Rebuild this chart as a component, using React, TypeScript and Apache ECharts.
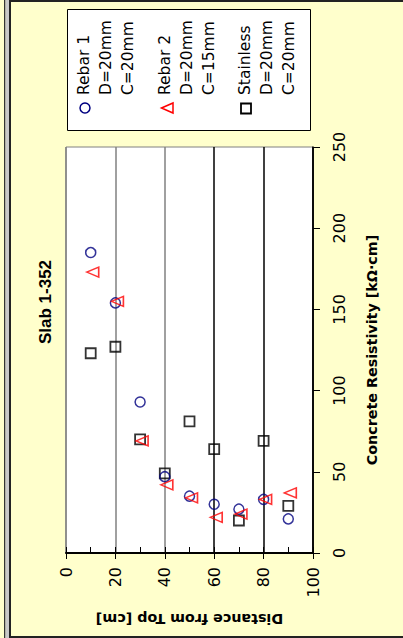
import React, { useEffect, useRef } from "react";
import * as echarts from "echarts";

// Depth below the slab surface (cm) for each reading
const distances = [10, 20, 30, 40, 50, 60, 70, 80, 90];
// Concrete resistivity readings (kΩ·cm)
const rebar1 = [185, 154, 93, 47, 35, 30, 27, 33, 21];
const rebar2 = [173, 155, 69, 42, 34, 22, 24, 33, 37];
const stainless = [123, 127, 70, 49, 81, 64, 20, 69, 29];

// Axis tick values
const distanceTicks = [0, 20, 40, 60, 80, 100];
const resistivityTicks = [0, 50, 100, 150, 200, 250];

// Legend entries: name followed by bar diameter and cover
const legendRebar1 = ["Rebar 1", "D=20mm", "C=20mm"];
const legendRebar2 = ["Rebar 2", "D=20mm", "C=15mm"];
const legendStainless = ["Stainless", "D=20mm", "C=20mm"];

const FONT = '"DejaVu Sans", Verdana, sans-serif';
const TITLE_FONT = '"Liberation Sans", Arial, sans-serif';
const NAVY = "#000080";
const RED = "#FF0000";
const PANEL = "#FFFFCC";

const pairs = (ys: number[]) => distances.map((d, i) => [d, ys[i]]);

function legendColumn(lines: string[], x0: number) {
  return lines.map((t, i) => ({
    type: "text",
    x: x0 + i * 22,
    y: 95,
    rotation: Math.PI / 2,
    style: {
      text: t,
      fontFamily: FONT,
      fontSize: 15.5,
      fill: "#000",
      align: "left",
      verticalAlign: "middle",
    },
  }));
}

export default function App() {
  const ref = useRef<HTMLDivElement>(null);

  useEffect(() => {
    if (!ref.current) return;
    const chart = echarts.init(ref.current, undefined, { renderer: "svg" });
    const dStep = distanceTicks[1] - distanceTicks[0];
    const rStep = resistivityTicks[1] - resistivityTicks[0];

    chart.setOption({
      animation: false,
      backgroundColor: PANEL,
      grid: {
        left: 66,
        right: 90,
        top: 147,
        bottom: 85,
        show: true,
        backgroundColor: "#FFFFFF",
        borderColor: "#808080",
        borderWidth: 1,
      },
      xAxis: [
        {
          type: "value",
          position: "bottom",
          min: distanceTicks[0],
          max: distanceTicks[distanceTicks.length - 1],
          interval: dStep,
          name: "Distance from Top [cm]",
          nameLocation: "middle",
          nameRotate: 180,
          nameGap: 59,
          nameTextStyle: {
            fontFamily: FONT,
            fontSize: 14.3,
            fontWeight: "bold",
            color: "#000",
          },
          axisLine: { show: true, lineStyle: { color: "#000", width: 2 } },
          axisTick: { show: true, inside: false, length: 6, lineStyle: { color: "#000", width: 1 } },
          axisLabel: {
            rotate: 90,
            margin: 14,
            fontFamily: FONT,
            fontSize: 16,
            color: "#000",
          },
          splitLine: {
            show: true,
            lineStyle: {
              color: ["#808080", "#808080", "#808080", "#000000", "#000000", "#000000"],
              width: 1.5,
            },
          },
        },
        {
          // minor ticks pointing into the plot
          type: "value",
          position: "bottom",
          min: distanceTicks[0],
          max: distanceTicks[distanceTicks.length - 1],
          interval: dStep / 2,
          axisLine: { show: false },
          axisTick: { show: true, inside: true, length: 6, lineStyle: { color: "#000", width: 1 } },
          axisLabel: { show: false },
          splitLine: { show: false },
        },
      ],
      yAxis: {
        type: "value",
        position: "right",
        min: resistivityTicks[0],
        max: resistivityTicks[resistivityTicks.length - 1],
        interval: rStep,
        name: "Concrete Resistivity [kΩ·cm]",
        nameLocation: "middle",
        nameRotate: 90,
        nameGap: 52,
        nameTextStyle: {
          fontFamily: FONT,
          fontSize: 14.3,
          fontWeight: "bold",
          color: "#000",
        },
        axisLine: { show: true, onZero: false, lineStyle: { color: "#000", width: 1.5 } },
        axisTick: { show: true, inside: false, length: 7, lineStyle: { color: "#000", width: 1 } },
        axisLabel: {
          rotate: 90,
          margin: 18,
          fontFamily: FONT,
          fontSize: 16,
          color: "#000",
        },
        splitLine: { show: false },
      },
      series: [
        {
          name: "Stainless",
          type: "scatter",
          xAxisIndex: 0,
          data: pairs(stainless),
          symbol: "rect",
          symbolSize: 10,
          itemStyle: { color: "rgba(0,0,0,0)", borderColor: "#000", borderWidth: 1.8 },
        },
        {
          name: "Rebar 1",
          type: "scatter",
          xAxisIndex: 0,
          data: pairs(rebar1),
          symbol: "circle",
          symbolSize: 10,
          itemStyle: { color: "rgba(0,0,0,0)", borderColor: NAVY, borderWidth: 1.5 },
        },
        {
          name: "Rebar 2",
          type: "scatter",
          xAxisIndex: 0,
          data: pairs(rebar2),
          symbol: "triangle",
          symbolSize: [10, 12],
          symbolRotate: 90,
          symbolOffset: [2, 0],
          itemStyle: { color: "rgba(0,0,0,0)", borderColor: RED, borderWidth: 1.5 },
        },
      ],
      graphic: [
        // neighbouring panel edge and frame
        { type: "rect", shape: { x: 4, y: 0, width: 1.5, height: 638 }, style: { fill: "#333" }, z: 50 },
        { type: "rect", shape: { x: 5.5, y: 0, width: 3.5, height: 638 }, style: { fill: "#c8c8c8" }, z: 50 },
        {
          type: "rect",
          shape: { x: 10, y: 1, width: 400, height: 636 },
          style: { fill: "none", stroke: "#222", lineWidth: 2 },
          z: 50,
        },
        // chart title
        {
          type: "text",
          x: 45,
          y: 302,
          rotation: Math.PI / 2,
          style: {
            text: "Slab 1-352",
            fontFamily: TITLE_FONT,
            fontSize: 17,
            fontWeight: "bold",
            fill: "#000",
            align: "center",
            verticalAlign: "middle",
          },
        },
        // legend box
        {
          type: "group",
          children: [
            {
              type: "rect",
              shape: { x: 67.5, y: 9.5, width: 243, height: 121 },
              style: { fill: "#FFFFFF", stroke: "#000", lineWidth: 1 },
            },
            ...legendColumn(legendRebar1, 84),
            ...legendColumn(legendRebar2, 165),
            ...legendColumn(legendStainless, 245),
            {
              type: "circle",
              shape: { cx: 85, cy: 108, r: 5 },
              style: { fill: "none", stroke: NAVY, lineWidth: 1.5 },
            },
            {
              type: "polygon",
              shape: { points: [[161.5, 108], [173, 103], [173, 113]] },
              style: { fill: "none", stroke: RED, lineWidth: 1.5 },
            },
            {
              type: "rect",
              shape: { x: 241, y: 103.5, width: 10, height: 10 },
              style: { fill: "none", stroke: "#000", lineWidth: 1.8 },
            },
          ],
        },
      ],
    });

    return () => chart.dispose();
  }, []);

  return (
    <div
      ref={ref}
      style={{ position: "absolute", left: 0, top: 0, width: 403, height: 638 }}
    />
  );
}
